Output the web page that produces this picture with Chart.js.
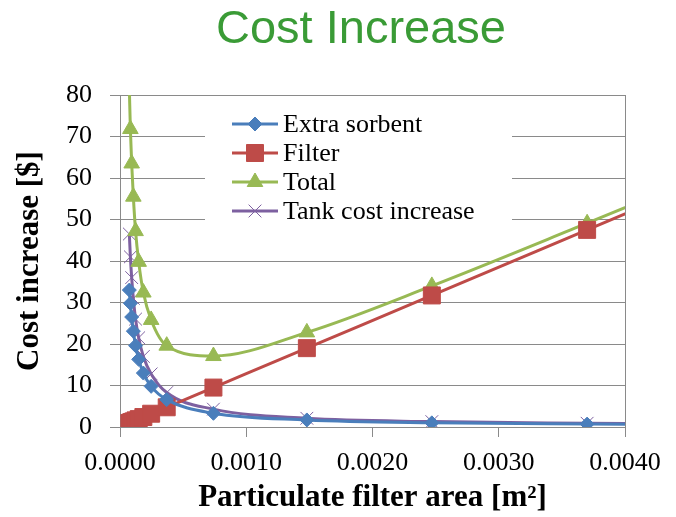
<!DOCTYPE html>
<html>
<head>
<meta charset="utf-8">
<script src="https://cdn.jsdelivr.net/npm/chart.js@4.4.1/dist/chart.umd.min.js"></script>
<style>
	html, body { margin: 0; padding: 0; background: #fff; }
	#costChart { display: block; }
</style>
</head>
<body>
<canvas id="costChart" width="676" height="517"></canvas>
<script>
// filter area [m2]; the last point sits past the axis end so the lines run on to the border
const filterArea = [0.000074, 0.0000822, 0.0000925, 0.0001057, 0.0001233, 0.000148, 0.000185, 0.0002467, 0.00037, 0.00074, 0.00148, 0.00247, 0.0037, 0.005];
const extraSorbent = [33.0, 29.8, 26.5, 23.1, 19.6, 16.3, 13.0, 9.8, 6.6, 3.3, 1.7, 1.0, 0.7, 0.5];
const filterCost = [0.95, 1.05, 1.2, 1.35, 1.6, 1.9, 2.4, 3.2, 4.75, 9.5, 19.0, 31.7, 47.5, 64.2];
const totalCost = [81.5, 71.8, 63.5, 55.5, 47.2, 39.8, 32.4, 25.8, 19.6, 17.1, 22.8, 34.0, 49.1, 65.3];
const tankCost = [46.5, 41.0, 36.0, 31.0, 26.0, 21.5, 17.0, 12.8, 8.3, 4.3, 2.1, 1.3, 0.9, 0.6];
const seriesNames = ['Extra sorbent', 'Filter', 'Total', 'Tank cost increase'];
const chartTitle = 'Cost Increase';

const yMax = 80;
const gridGray = '#8a8a8a';
const serif = 'Liberation Serif';

function toPoints(values) {
	return values.map(function(v, i) {
		return { x: filterArea[i], y: v };
	});
}

function makeDataset(label, values, color, style, radius, markerBorder) {
	return {
		label: label,
		data: toPoints(values),
		borderColor: color,
		backgroundColor: color,
		borderWidth: 3,
		pointStyle: style,
		pointBackgroundColor: color,
		pointBorderColor: color,
		pointBorderWidth: markerBorder,
		pointRadius: function(ctx) {
			var p = ctx.raw;
			return p && p.y > yMax ? 0 : radius;
		},
		cubicInterpolationMode: 'monotone',
		fill: false
	};
}

// title sits a little left of the plot centre in the original
const topTitle = {
	id: 'topTitle',
	afterDraw: function(chart) {
		var ctx = chart.ctx;
		ctx.save();
		ctx.fillStyle = '#3a9b36';
		ctx.font = '47px "Liberation Sans"';
		ctx.textAlign = 'center';
		ctx.textBaseline = 'alphabetic';
		ctx.fillText(chartTitle, chart.width / 2 + 23, 43);
		ctx.restore();
	}
};

// legend drawn inside the plot, on a white box over the grid
const insideLegend = {
	id: 'insideLegend',
	afterDraw: function(chart) {
		var ctx = chart.ctx;
		var area = chart.chartArea;
		var boxLeft = area.left + 85;
		var boxTop = area.top + 2;
		ctx.save();
		ctx.fillStyle = '#fff';
		ctx.fillRect(boxLeft, boxTop, 307, 133);
		ctx.font = '26px "' + serif + '"';
		ctx.textBaseline = 'middle';
		chart.data.datasets.forEach(function(ds, i) {
			var y = area.top + 29 + i * 29;
			var x0 = boxLeft + 27;
			ctx.strokeStyle = ds.borderColor;
			ctx.lineWidth = 3;
			ctx.beginPath();
			ctx.moveTo(x0, y);
			ctx.lineTo(x0 + 46, y);
			ctx.stroke();
			ctx.fillStyle = ds.pointBackgroundColor;
			ctx.lineWidth = ds.pointBorderWidth;
			var r = ds.pointStyle === 'rect' ? 12 : (ds.pointStyle === 'rectRot' ? 7 : 9);
			Chart.helpers.drawPoint(ctx, { pointStyle: ds.pointStyle, radius: r, rotation: 0, borderWidth: ds.pointBorderWidth }, x0 + 23, y);
			ctx.fillStyle = '#000';
			ctx.fillText(ds.label, x0 + 51, y + 1);
		});
		ctx.restore();
	}
};

// right edge of the plot frame
const plotFrame = {
	id: 'plotFrame',
	beforeDatasetsDraw: function(chart) {
		var ctx = chart.ctx;
		var area = chart.chartArea;
		ctx.save();
		ctx.strokeStyle = gridGray;
		ctx.lineWidth = 1;
		ctx.beginPath();
		ctx.moveTo(Math.round(area.right) + 0.5, area.top);
		ctx.lineTo(Math.round(area.right) + 0.5, area.bottom);
		ctx.stroke();
		ctx.restore();
	}
};

function GetCostChart() {
	var ctx = document.getElementById('costChart').getContext('2d');
	var chart = new Chart(ctx, {
		type: 'line',
		data: {
			datasets: [
				makeDataset(seriesNames[0], extraSorbent, '#4a7ebb', 'rectRot', 7, 1),
				makeDataset(seriesNames[1], filterCost, '#be4b48', 'rect', 12, 1),
				makeDataset(seriesNames[2], totalCost, '#98b954', 'triangle', 9, 1),
				makeDataset(seriesNames[3], tankCost, '#7d60a0', 'crossRot', 9, 1)
			]
		},
		options: {
			responsive: false,
			animation: false,
			devicePixelRatio: 1,
			layout: { padding: { left: 0, right: 51, top: 95, bottom: 0 } },
			plugins: {
				legend: { display: false },
				tooltip: { enabled: false },
				title: { display: false }
			},
			scales: {
				x: {
					type: 'linear',
					min: 0,
					max: 0.004,
					afterFit: function(scale) { scale.height = 90; },
					ticks: {
						stepSize: 0.001,
						color: '#000',
						padding: 11,
						maxRotation: 0,
						font: { family: serif, size: 26 },
						callback: function(v) { return v.toFixed(4); }
					},
					grid: { drawOnChartArea: false, drawTicks: true, tickLength: 10, color: gridGray },
					border: { color: gridGray },
					title: {
						display: true,
						text: 'Particulate filter area [m²]',
						color: '#000',
						font: { family: serif, size: 31, weight: 'bold' },
						padding: { top: 0, bottom: 0 }
					}
				},
				y: {
					min: 0,
					max: yMax,
					afterFit: function(scale) { scale.width = 120; },
					ticks: {
						stepSize: 10,
						color: '#000',
						padding: 18,
						font: { family: serif, size: 26 }
					},
					grid: { color: gridGray, tickLength: 10 },
					border: { color: gridGray },
					title: {
						display: true,
						text: 'Cost increase [$]',
						color: '#000',
						font: { family: serif, size: 31, weight: 'bold' },
						padding: { top: 11, bottom: 0 }
					}
				}
			}
		},
		plugins: [plotFrame, insideLegend, topTitle]
	});
}

GetCostChart();
</script>
</body>
</html>
